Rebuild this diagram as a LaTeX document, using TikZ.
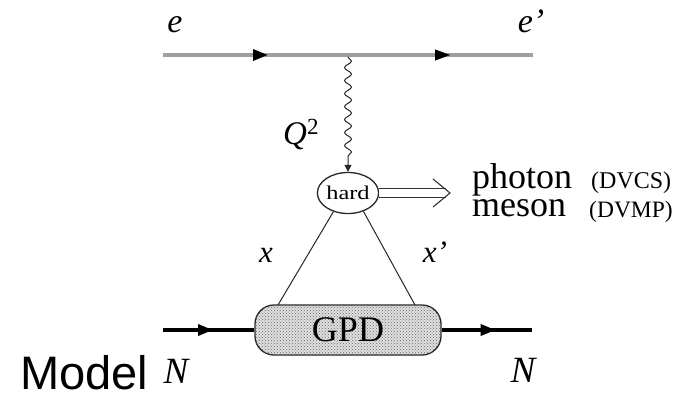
\documentclass[tikz,border=0pt]{standalone}
\usepackage{fontspec}
\setmainfont{Liberation Serif}
\newfontfamily\modelfont{Liberation Sans}
\usetikzlibrary{arrows.meta,decorations.pathmorphing,decorations.markings,shapes.geometric,patterns}
\begin{document}
\begin{tikzpicture}[x=1pt,y=-1pt,
  lbl/.style={inner sep=0pt, anchor=base},
  lblw/.style={inner sep=0pt, anchor=base west},
  eline/.style={draw=black!38, line width=3.4pt},
  nline/.style={draw=black, line width=3.4pt},
  tip/.style={decoration={markings, mark=at position #1 with {\arrow[black]{Triangle[length=15pt,width=11pt]}}}, postaction={decorate}},
  thin/.style={draw=black!85, line width=1pt}
]
\useasboundingbox (0,0) rectangle (692,396);

% coordinates
\coordinate (eL) at (163,55);
\coordinate (eR) at (533,55);
\coordinate (vtx) at (348,55);
\coordinate (nL) at (163,330);
\coordinate (nR) at (532,330);
\coordinate (gL) at (278,305);
\coordinate (gR) at (415,305);
\coordinate (dA) at (446,193);
\coordinate (chT) at (433,179);
\coordinate (chM) at (450,193);
\coordinate (chB) at (433,207);

% electron line
\path[eline, tip=105pt] (eL) -- (eR);
\path[tip=287pt] (eL) -- (eR);

% nodes
\node[draw=black!85, line width=1.3pt, ellipse, inner sep=0pt, minimum width=53pt, minimum height=41pt,
      font=\fontsize{19.5}{19.5}\selectfont] (hard) at (348,193) {\scalebox{1.25}[1]{hard}};
\node[draw=black!85, line width=1.3pt, fill=black!12, rounded corners=19pt, minimum width=186pt,
      minimum height=50pt, inner sep=0pt, postaction={pattern=crosshatch dots, pattern color=black!60},
      font=\fontsize{36}{36}\selectfont] (gpd) at (348,330) {};
\node[inner sep=0pt, font=\fontsize{36}{36}\selectfont] (gpdt) at (gpd.center) {GPD};

% photon
\draw[black!85, line width=1pt, decorate,
      decoration={snake, segment length=13pt, amplitude=3.5pt, post length=5pt}]
      ([yshift=-2pt]vtx) -- ([yshift=6pt]hard.north);
\draw[black!85, line width=1pt, -{Triangle[length=7pt,width=7pt]}] ([yshift=7pt]hard.north) -- (hard.north);

% partons
\draw[thin] (hard.232) -- (gL);
\draw[thin] (hard.310) -- (gR);

% outgoing double arrow
\draw[black!80, line width=1pt, double=white, double distance=7.5pt] (hard.east) -- (dA);
\draw[black!80, line width=1.1pt] (chT) -- (chM) -- (chB);

% nucleon lines
\path[nline, tip=50pt] (nL) -- (gpd.west);
\path[nline, tip=54pt] (gpd.east) -- (nR);

% labels
\node[lbl, font=\fontsize{34}{34}\selectfont\itshape] (le) at (175,33) {e};
\node[lbl, font=\fontsize{34}{34}\selectfont\itshape] (lep) at (531,33) {e'};
\node[lblw, font=\fontsize{33}{33}\selectfont] (lq) at (283,144) {\textit{Q}\textsuperscript{2}};
\node[lbl, font=\fontsize{31}{31}\selectfont\itshape] (lx) at (266,262) {x};
\node[lbl, font=\fontsize{31}{31}\selectfont\itshape] (lxp) at (435,262) {x'};
\node[lbl, font=\fontsize{37}{37}\selectfont\itshape] (lnl) at (176,383) {N};
\node[lbl, font=\fontsize{37}{37}\selectfont\itshape] (lnr) at (523,382) {N};
\node[lblw, font=\fontsize{36}{36}\selectfont] (lph) at (472,188) {photon};
\node[lblw, font=\fontsize{36}{36}\selectfont] (lme) at (472,216) {meson};
\node[lblw, font=\fontsize{24}{24}\selectfont] (ldvcs) at (591,188) {(DVCS)};
\node[lblw, font=\fontsize{23.5}{23.5}\selectfont] (ldvmp) at (589,217) {(DVMP)};
\node[lblw, font=\fontsize{47}{47}\selectfont\modelfont] (lmodel) at (20,389) {Model};
\end{tikzpicture}
\end{document}
